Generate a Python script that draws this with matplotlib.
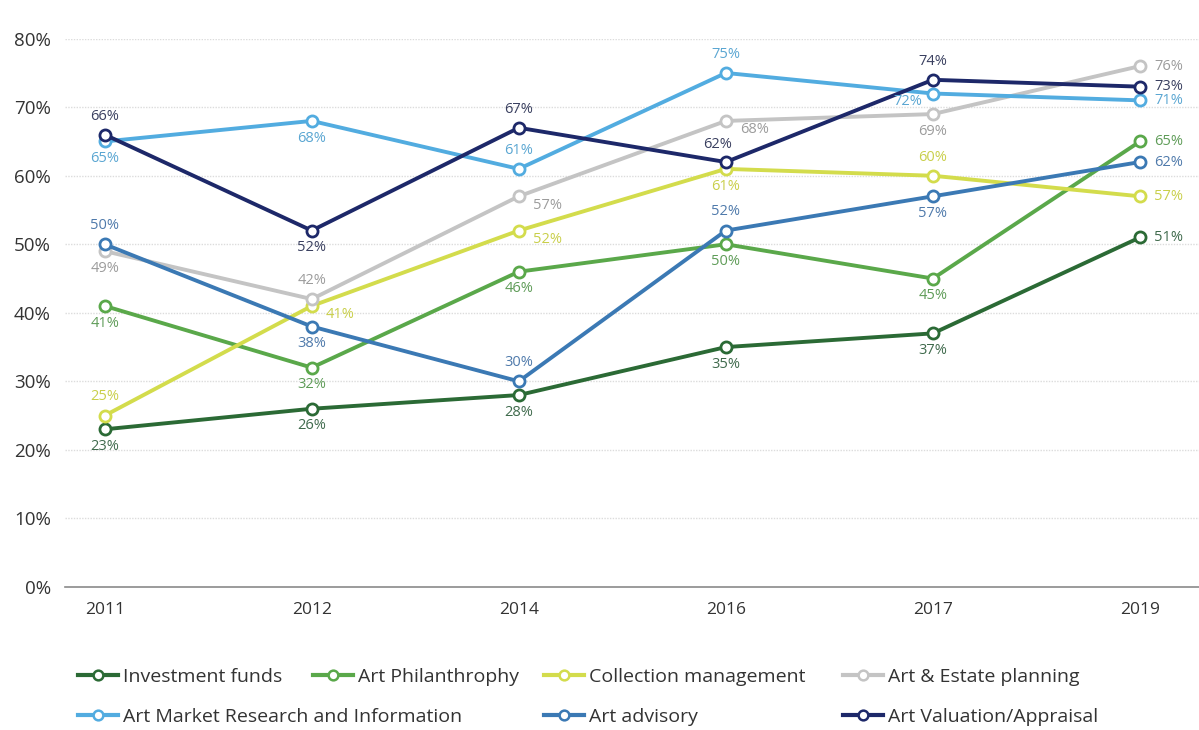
import numpy as np
import matplotlib
matplotlib.use("Agg")
import matplotlib.pyplot as plt
from matplotlib.lines import Line2D

plt.rcParams["font.family"] = ["Open Sans", "DejaVu Sans"]

# ── Data ─────────────────────────────────────────────────────────────────────
years = ["2011", "2012", "2014", "2016", "2017", "2019"]

investment_funds    = [23, 26, 28, 35, 37, 51]
art_philanthrophy   = [41, 32, 46, 50, 45, 65]
collection_mgmt     = [25, 41, 52, 61, 60, 57]
art_estate          = [49, 42, 57, 68, 69, 76]
art_market_research = [65, 68, 61, 75, 72, 71]
art_advisory        = [50, 38, 30, 52, 57, 62]
art_valuation       = [66, 52, 67, 62, 74, 73]

series_names = ["Investment funds", "Art Philanthrophy", "Collection management",
                "Art & Estate planning", "Art Market Research and Information",
                "Art advisory", "Art Valuation/Appraisal"]
series_values = [investment_funds, art_philanthrophy, collection_mgmt, art_estate,
                 art_market_research, art_advisory, art_valuation]

# ── Styles ───────────────────────────────────────────────────────────────────
line_colors  = ["#2b6a35", "#5aa84a", "#d3dc4c", "#c4c4c4", "#52ace0", "#3b79b4", "#1d2869"]
label_colors = ["#3f6a4c", "#5f9c58", "#c9cf4a", "#9c9c9c", "#5aa6d2", "#4f7aab", "#3a4060"]

# label placement per point: a=above, b=below, r=right, rb=right-below, la=left-above, lb=left-below
label_pos = [
    ["b", "b", "b", "b", "b", "r"],
    ["b", "b", "b", "b", "b", "r"],
    ["a", "rb", "rb", "b", "a", "r"],
    ["b", "a", "rb", "rb", "b", "r"],
    ["b", "b", "a", "a", "lb", "r"],
    ["a", "b", "a", "a", "b", "r"],
    ["a", "b", "a", "la", "a", "r"],
]
offsets = {
    "a":  ((0, 8), "center", "bottom"),
    "b":  ((0, -7), "center", "top"),
    "r":  ((10, 0), "left", "center"),
    "rb": ((10, -1), "left", "top"),
    "la": ((-6, 7), "center", "bottom"),
    "lb": ((-8, 0), "right", "top"),
}

# ── Plot ─────────────────────────────────────────────────────────────────────
fig = plt.figure(figsize=(11.99, 7.30), dpi=100)
ax = fig.add_axes([0.054, 0.196, 0.946, 0.751])

x = np.arange(len(years))
handles = []
for name, vals, lc, tc, pos in zip(series_names, series_values, line_colors,
                                     label_colors, label_pos):
    ln, = ax.plot(x, vals, color=lc, linewidth=2.8, marker="o", markersize=8,
                  markerfacecolor="white", markeredgecolor=lc, markeredgewidth=2.0,
                  label=name, zorder=3, solid_capstyle="round")
    handles.append(ln)
    for xi, v, p in zip(x, vals, pos):
        off, ha, va = offsets[p]
        ax.annotate(f"{v}%", (xi, v), xytext=off, textcoords="offset points",
                    ha=ha, va=va, fontsize=10.5, color=tc, zorder=4)

ax.set_xlim(-0.193, 5.285)
ax.set_ylim(0, 80)
ax.set_yticks(range(0, 81, 10))
ax.set_yticklabels([f"{t}%" for t in range(0, 81, 10)], fontsize=13.5, color="#333333")
ax.set_xticks(x)
ax.set_xticklabels(years, fontsize=12.5, color="#333333")
ax.tick_params(axis="both", length=0)
ax.tick_params(axis="y", pad=10)
ax.tick_params(axis="x", pad=11)

for t in range(10, 81, 10):
    ax.axhline(t, color="#dcdcdc", linewidth=1.0, linestyle=(0, (1, 1)), zorder=1)

for s in ["top", "right", "left"]:
    ax.spines[s].set_visible(False)
ax.spines["bottom"].set_color("#8a8a8a")
ax.spines["bottom"].set_linewidth(1.2)
ax.spines["bottom"].set_zorder(5)

# ── Legend (flow layout, placed entry by entry) ──────────────────────────────
legend_slots = [(0.065, 0.0726), (0.261, 0.0726), (0.4537, 0.0726), (0.703, 0.0726),
                (0.065, 0.0178), (0.4537, 0.0178), (0.703, 0.0178)]
for h, (lx, ly) in zip(handles, legend_slots):
    proxy = Line2D([], [], color=h.get_color(), linewidth=3, marker="o", markersize=7,
                   markerfacecolor="white", markeredgecolor=h.get_color(),
                   markeredgewidth=1.8)
    fig.legend(handles=[proxy], labels=[h.get_label()], loc="center left",
               bbox_to_anchor=(lx, ly), frameon=False, fontsize=14,
               handlelength=2.07, handletextpad=0.26, borderpad=0, borderaxespad=0,
               labelcolor="#333333")

fig.savefig("out.png", dpi=100)
